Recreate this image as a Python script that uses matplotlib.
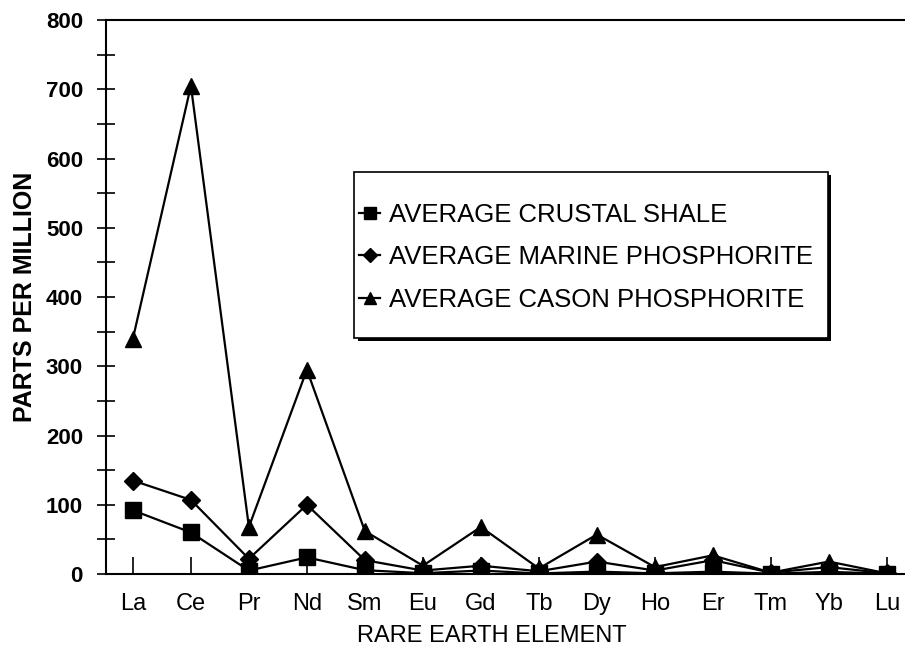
import matplotlib.pyplot as plt
from matplotlib.patches import Rectangle
import numpy as np

elements = ['La', 'Ce', 'Pr', 'Nd', 'Sm', 'Eu', 'Gd', 'Tb', 'Dy', 'Ho', 'Er', 'Tm', 'Yb', 'Lu']
shale = [92, 60, 5, 24, 5.5, 1.2, 5, 0.8, 3.5, 1, 3.4, 0.5, 3.1, 0.5]
marine = [135, 107, 22, 100, 20, 5, 12, 4, 18, 5, 20, 2, 10, 1]
cason = [340, 705, 68, 295, 62, 12, 68, 8, 57, 10, 27, 2, 18, 1]

plt.rcParams['font.family'] = ['Liberation Sans', 'DejaVu Sans']

fig = plt.figure(figsize=(9.05, 6.54), dpi=100)
ax = fig.add_axes([0.117, 0.1223, 0.886, 0.847])

x = np.arange(len(elements))
ax.plot(x, shale, color='black', lw=1.6, marker='s', ms=12, label='AVERAGE CRUSTAL SHALE')
ax.plot(x, marine, color='black', lw=1.6, marker='D', ms=9, label='AVERAGE MARINE PHOSPHORITE')
ax.plot(x, cason, color='black', lw=1.6, marker='^', ms=12, label='AVERAGE CASON PHOSPHORITE')

ax.set_xlim(-0.466, 13.36)
ax.set_ylim(0, 800)
ax.set_yticks(range(0, 801, 100))
ax.set_yticks(range(50, 800, 100), minor=True)
ax.set_xticks(x)
ax.set_xticklabels(elements, fontsize=17)
for lab in ax.get_yticklabels():
    lab.set_fontsize(16)
    lab.set_fontweight('bold')
ax.tick_params(axis='y', which='both', direction='inout', length=13, width=1.2, pad=10)
ax.tick_params(axis='x', direction='in', length=12, width=1.2, pad=14)
for s in ax.spines.values():
    s.set_linewidth(1.5)

ax.set_ylabel('PARTS PER MILLION', fontsize=18, fontweight='bold')
ax.yaxis.set_label_coords(-0.086, 0.5)
ax.set_xlabel('RARE EARTH ELEMENT', fontsize=17)
ax.xaxis.set_label_coords(0.481, -0.092)

# legend box with shadow
ax.add_patch(Rectangle((0.314, 0.421), 0.59, 0.3, transform=ax.transAxes,
                       facecolor='black', edgecolor='none', zorder=4))
ax.add_patch(Rectangle((0.310, 0.426), 0.59, 0.3, transform=ax.transAxes,
                       facecolor='white', edgecolor='black', lw=1.2, zorder=5))
leg = ax.legend(loc='center left', bbox_to_anchor=(0.316, 0.572), fontsize=18.5,
                frameon=False, handlelength=0.8, markerscale=0.75,
                handletextpad=0.35, labelspacing=0.72, borderpad=0,
                borderaxespad=0)
leg.set_zorder(6)

fig.savefig('out.png', dpi=100)
